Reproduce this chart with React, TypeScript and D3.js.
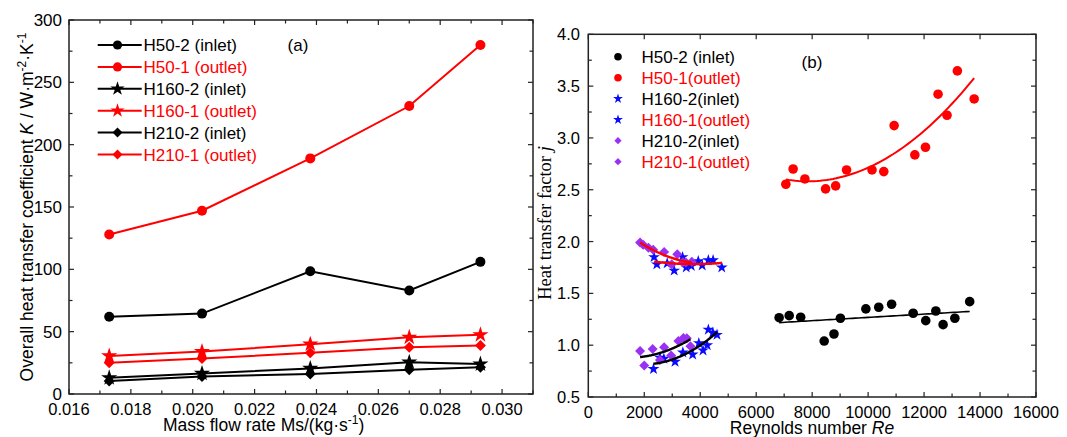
import React from "react";
import * as d3 from "d3";

// ---------- Panel (a) data ----------
const massFlow = [0.0173, 0.0203, 0.0238, 0.027, 0.0293];
const K_H50_2 = [62, 64.5, 98.5, 83, 106];
const K_H50_1 = [128, 147, 189, 231, 280];
const K_H160_2 = [13, 16.5, 20.5, 25.5, 24];
const K_H160_1 = [30.5, 34, 40, 45.5, 47.5];
const K_H210_2 = [10.5, 14, 16, 19.5, 21.5];
const K_H210_1 = [25, 28.5, 33, 37.5, 39];

const aXTicks = [0.016, 0.018, 0.02, 0.022, 0.024, 0.026, 0.028, 0.03];
const aYTicks = [0, 50, 100, 150, 200, 250, 300];

// ---------- Panel (b) data ----------
const Re_H50_2 = [6820, 7180, 7590, 8430, 8780, 9010, 9920, 10380, 10840, 11610, 12060, 12420, 12680, 13100, 13630];
const j_H50_2 = [1.265, 1.285, 1.27, 1.04, 1.108, 1.26, 1.35, 1.366, 1.395, 1.308, 1.237, 1.33, 1.198, 1.26, 1.42];

const Re_H50_1 = [7060, 7320, 7740, 8480, 8840, 9230, 10140, 10560, 10930, 11670, 12050, 12500, 12820, 13190, 13790];
const j_H50_1 = [2.553, 2.7, 2.604, 2.508, 2.537, 2.691, 2.691, 2.675, 3.119, 2.836, 2.91, 3.422, 3.219, 3.647, 3.376];

const Re_H160_2 = [2330, 2560, 2700, 3100, 3380, 3730, 3950, 4100, 4250, 4290, 4450, 4600];
const j_H160_2 = [0.77, 0.88, 0.87, 0.84, 0.93, 0.91, 1.02, 0.95, 1.0, 1.15, 1.12, 1.1];

const Re_H160_1 = [2350, 2450, 2820, 3070, 3370, 3500, 3680, 3930, 4070, 4290, 4460, 4770];
const j_H160_1 = [1.85, 1.78, 1.79, 1.72, 1.85, 1.75, 1.765, 1.81, 1.77, 1.82, 1.82, 1.75];

const Re_H210_2 = [1850, 2000, 2300, 2560, 2710, 2960, 3220, 3400, 3520, 3650];
const j_H210_2 = [0.944, 0.805, 0.963, 0.857, 0.98, 0.9, 1.04, 1.07, 1.066, 0.99];

const Re_H210_1 = [1850, 1960, 2150, 2320, 2710, 2980, 3180, 3380, 3490, 3700];
const j_H210_1 = [1.99, 1.97, 1.94, 1.92, 1.9, 1.78, 1.877, 1.8, 1.797, 1.806];

const bXTicks = [0, 2000, 4000, 6000, 8000, 10000, 12000, 14000, 16000];
const bYTicks = [0.5, 1.0, 1.5, 2.0, 2.5, 3.0, 3.5, 4.0];

const RED = "#ff0000";
const BLUE = "#0a0aff";
const PURPLE = "#9b30f5";
const FONT = "'Liberation Sans', Arial, sans-serif";
const SERIF = "'Liberation Serif', 'Times New Roman', serif";

type Shape = "circle" | "star" | "diamond";

function Marker({ shape, x, y, r, color }: { shape: Shape; x: number; y: number; r: number; color: string }) {
  if (shape === "circle") return <circle cx={x} cy={y} r={r} fill={color} />;
  if (shape === "star") {
    const size = (r * r) / 0.8908130915292852;
    const d = d3.symbol().type(d3.symbolStar).size(size)() as string;
    return <path d={d} transform={`translate(${x},${y})`} fill={color} />;
  }
  const side = r * Math.SQRT2;
  const d = d3.symbol().type(d3.symbolSquare).size(side * side)() as string;
  return <path d={d} transform={`translate(${x},${y}) rotate(45)`} fill={color} />;
}

function polyfit(xs: number[], ys: number[], deg: number) {
  const s = 1000;
  const m = deg + 1;
  const A: number[][] = Array.from({ length: m }, () => new Array(m + 1).fill(0));
  xs.forEach((xv, i) => {
    const x = xv / s;
    for (let r = 0; r < m; r++) {
      for (let c = 0; c < m; c++) A[r][c] += Math.pow(x, r + c);
      A[r][m] += Math.pow(x, r) * ys[i];
    }
  });
  for (let i = 0; i < m; i++) {
    let p = i;
    for (let k = i + 1; k < m; k++) if (Math.abs(A[k][i]) > Math.abs(A[p][i])) p = k;
    [A[i], A[p]] = [A[p], A[i]];
    for (let k = i + 1; k < m; k++) {
      const f = A[k][i] / A[i][i];
      for (let c = i; c <= m; c++) A[k][c] -= f * A[i][c];
    }
  }
  const coef = new Array(m).fill(0);
  for (let i = m - 1; i >= 0; i--) {
    let v = A[i][m];
    for (let c = i + 1; c < m; c++) v -= A[i][c] * coef[c];
    coef[i] = v / A[i][i];
  }
  return (xv: number) => coef.reduce((acc, cf, k) => acc + cf * Math.pow(xv / s, k), 0);
}

export default function App() {
  // Panel (a)
  const ax = d3.scaleLinear().domain([0.016, 0.031]).range([69, 533]);
  const ay = d3.scaleLinear().domain([0, 300]).range([394, 20]);
  const aLine = d3
    .line<[number, number]>()
    .x((d) => ax(d[0]))
    .y((d) => ay(d[1]));

  const aSeries: { name: string; vals: number[]; color: string; shape: Shape; r: number }[] = [
    { name: "H50-2 (inlet)", vals: K_H50_2, color: "#000", shape: "circle", r: 5 },
    { name: "H50-1 (outlet)", vals: K_H50_1, color: RED, shape: "circle", r: 5 },
    { name: "H160-2 (inlet)", vals: K_H160_2, color: "#000", shape: "star", r: 8.5 },
    { name: "H160-1 (outlet)", vals: K_H160_1, color: RED, shape: "star", r: 8.5 },
    { name: "H210-2 (inlet)", vals: K_H210_2, color: "#000", shape: "diamond", r: 5.5 },
    { name: "H210-1 (outlet)", vals: K_H210_1, color: RED, shape: "diamond", r: 5.5 },
  ];

  const aMinorX = d3.range(0.016, 0.0311, 0.001);
  const aMinorY = d3.range(0, 301, 25);

  // Panel (b)
  const bx = d3.scaleLinear().domain([0, 16000]).range([588.3, 1036]);
  const by = d3.scaleLinear().domain([0.5, 4.0]).range([397, 34.3]);
  const bLine = d3
    .line<[number, number]>()
    .x((d) => bx(d[0]))
    .y((d) => by(d[1]));

  const bSeries: {
    name: string;
    re: number[];
    j: number[];
    color: string;
    textColor: string;
    fitColor: string;
    shape: Shape;
    r: number;
    deg: number;
    lw: number;
  }[] = [
    { name: "H50-2 (inlet)", re: Re_H50_2, j: j_H50_2, color: "#000", textColor: "#000", fitColor: "#000", shape: "circle", r: 4.8, deg: 1, lw: 1.6 },
    { name: "H50-1(outlet)", re: Re_H50_1, j: j_H50_1, color: RED, textColor: RED, fitColor: RED, shape: "circle", r: 4.8, deg: 2, lw: 2 },
    { name: "H160-2(inlet)", re: Re_H160_2, j: j_H160_2, color: BLUE, textColor: "#000", fitColor: "#000", shape: "star", r: 6.2, deg: 2, lw: 2.4 },
    { name: "H160-1(outlet)", re: Re_H160_1, j: j_H160_1, color: BLUE, textColor: RED, fitColor: RED, shape: "star", r: 6.2, deg: 2, lw: 2.4 },
    { name: "H210-2(inlet)", re: Re_H210_2, j: j_H210_2, color: PURPLE, textColor: "#000", fitColor: "#000", shape: "diamond", r: 5, deg: 2, lw: 2.4 },
    { name: "H210-1(outlet)", re: Re_H210_1, j: j_H210_1, color: PURPLE, textColor: RED, fitColor: RED, shape: "diamond", r: 5, deg: 2, lw: 2.4 },
  ];

  const bMinorX = d3.range(0, 16001, 1000);
  const bMinorY = d3.range(0.5, 4.01, 0.25);

  const fits = bSeries.map((s) => {
    const f = polyfit(s.re, s.j, s.deg);
    const lo = d3.min(s.re) as number;
    const hi = d3.max(s.re) as number;
    const pts: [number, number][] = d3.range(0, 61).map((i) => {
      const x = lo + ((hi - lo) * i) / 60;
      return [x, f(x)];
    });
    return pts;
  });

  const frameColor = "#222";

  return (
    <svg width={1067} height={437} style={{ position: "absolute", left: 0, top: 0, background: "#fff" }} fontFamily={FONT}>
      {/* ===== Panel (a) ===== */}
      <g>
        {aMinorX.map((v, i) => {
          const major = Math.abs((v - 0.016) / 0.002 - Math.round((v - 0.016) / 0.002)) < 1e-6;
          const len = major ? 5 : 3.5;
          return (
            <g key={"ax" + i} stroke={frameColor} strokeWidth={1.2}>
              <line x1={ax(v)} x2={ax(v)} y1={394} y2={394 - len} />
              <line x1={ax(v)} x2={ax(v)} y1={20} y2={20 + len} />
            </g>
          );
        })}
        {aMinorY.map((v, i) => {
          const len = v % 50 === 0 ? 5 : 3.5;
          return (
            <g key={"ay" + i} stroke={frameColor} strokeWidth={1.2}>
              <line x1={69} x2={69 + len} y1={ay(v)} y2={ay(v)} />
              <line x1={533} x2={533 - len} y1={ay(v)} y2={ay(v)} />
            </g>
          );
        })}
        <rect x={69} y={20} width={464} height={374} fill="none" stroke={frameColor} strokeWidth={1.5} />
        {aXTicks.map((v) => (
          <text key={"axl" + v} x={ax(v)} y={415} fontSize={16.5} textAnchor="middle" fill="#000">
            {d3.format(".3f")(v)}
          </text>
        ))}
        {aYTicks.map((v) => (
          <text key={"ayl" + v} x={62} y={ay(v) + 6} fontSize={17} textAnchor="end" fill="#000">
            {v}
          </text>
        ))}
        <text x={163} y={431} fontSize={17.5} fill="#000">
          Mass flow rate Ms/(kg·s
          <tspan dy={-7} fontSize={12}>
            -1
          </tspan>
          <tspan dy={7}>)</tspan>
        </text>
        <text transform="translate(33,207) rotate(-90)" fontSize={17.5} textAnchor="middle" fill="#000">
          Overall heat transfer coefficient <tspan fontStyle="italic">K</tspan> / W·m
          <tspan dy={-7} fontSize={12}>
            -2
          </tspan>
          <tspan dy={7}>·K</tspan>
          <tspan dy={-7} fontSize={12}>
            -1
          </tspan>
        </text>

        {aSeries.map((s, si) => {
          const pts: [number, number][] = massFlow.map((m, i) => [m, s.vals[i]]);
          return (
            <g key={"as" + si}>
              <path d={aLine(pts) as string} fill="none" stroke={s.color} strokeWidth={2} />
              {pts.map((p, i) => (
                <Marker key={i} shape={s.shape} x={ax(p[0])} y={ay(p[1])} r={s.r} color={s.color} />
              ))}
            </g>
          );
        })}

        {aSeries.map((s, i) => {
          const cy = 45 + i * 21.9;
          return (
            <g key={"alg" + i}>
              <line x1={97.7} x2={141.7} y1={cy} y2={cy} stroke={s.color} strokeWidth={2} />
              <Marker shape={s.shape} x={117.5} y={cy} r={s.shape === "star" ? 7.5 : s.shape === "diamond" ? 5 : 4.6} color={s.color} />
              <text x={143.5} y={cy + 6} fontSize={17} fill={s.color}>
                {s.name}
              </text>
            </g>
          );
        })}
        <text x={298} y={51} fontSize={17} textAnchor="middle" fill="#000">
          (a)
        </text>
      </g>

      {/* ===== Panel (b) ===== */}
      <g>
        {bMinorX.map((v, i) => {
          const major = v % 2000 === 0;
          return (
            <g key={"bx" + i} stroke={frameColor} strokeWidth={1.2}>
              <line x1={bx(v)} x2={bx(v)} y1={397} y2={397 - (major ? 5 : 3.5)} />
              {major && <line x1={bx(v)} x2={bx(v)} y1={34.3} y2={34.3 + 5} />}
            </g>
          );
        })}
        {bMinorY.map((v, i) => {
          const major = Math.abs(v * 2 - Math.round(v * 2)) < 1e-6;
          const len = major ? 5 : 3.5;
          return (
            <g key={"by" + i} stroke={frameColor} strokeWidth={1.2}>
              <line x1={588.3} x2={588.3 + len} y1={by(v)} y2={by(v)} />
              <line x1={1036} x2={1036 - len} y1={by(v)} y2={by(v)} />
            </g>
          );
        })}
        <rect x={588.3} y={34.3} width={1036 - 588.3} height={397 - 34.3} fill="none" stroke={frameColor} strokeWidth={1.5} />
        {bXTicks.map((v) => (
          <text key={"bxl" + v} x={bx(v)} y={418} fontSize={16.5} textAnchor="middle" fill="#000">
            {v}
          </text>
        ))}
        {bYTicks.map((v) => (
          <text key={"byl" + v} x={580} y={by(v) + 6} fontSize={16.5} textAnchor="end" fill="#000">
            {d3.format(".1f")(v)}
          </text>
        ))}
        <text x={812} y={434} fontSize={17.5} textAnchor="middle" fill="#000">
          Reynolds number <tspan fontStyle="italic">Re</tspan>
        </text>
        <text transform="translate(551,223) rotate(-90)" fontSize={18.5} textAnchor="middle" fill="#000" fontFamily={SERIF}>
          Heat transfer factor <tspan fontStyle="italic">j</tspan>
        </text>

        {bSeries.map((s, si) => (
          <g key={"bs" + si}>
            {s.re.map((re, i) => (
              <Marker key={i} shape={s.shape} x={bx(re)} y={by(s.j[i])} r={s.r} color={s.color} />
            ))}
          </g>
        ))}
        {bSeries.map((s, si) => (
          <path key={"bf" + si} d={bLine(fits[si]) as string} fill="none" stroke={s.fitColor} strokeWidth={s.lw} />
        ))}

        {bSeries.map((s, i) => {
          const cy = 56.7 + i * 21;
          return (
            <g key={"blg" + i}>
              <Marker shape={s.shape} x={618} y={cy} r={s.shape === "star" ? 5.2 : s.shape === "diamond" ? 3.6 : 3.8} color={s.color} />
              <text x={641.5} y={cy + 6} fontSize={17} fill={s.textColor}>
                {s.name}
              </text>
            </g>
          );
        })}
        <text x={812} y={68} fontSize={17} textAnchor="middle" fill="#000">
          (b)
        </text>
      </g>
    </svg>
  );
}
